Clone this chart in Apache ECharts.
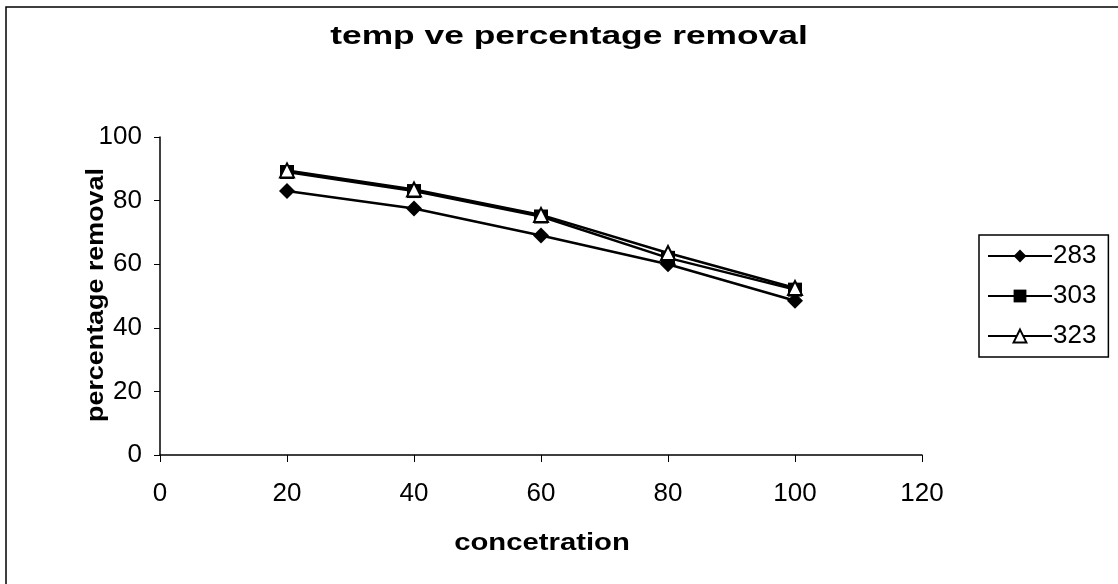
<!DOCTYPE html>
<html>
<head>
<meta charset="utf-8">
<script src="https://cdn.jsdelivr.net/npm/echarts@6/dist/echarts.min.js"></script>
<style>html,body{margin:0;padding:0;background:#fff}#c{width:1118px;height:584px}</style>
</head>
<body>
<div id="c"></div>
<script>
const concentration = [20, 40, 60, 80, 100];
const s283 = [83, 77.5, 69, 60, 48.5];
const s303 = [89, 83, 75, 62, 52];
const s323 = [89.5, 83.5, 75.5, 63.5, 52.5];
const seriesNames = ['283', '303', '323'];
const titleText = 'temp ve percentage removal';
const xName = 'concetration';
const yName = 'percentage removal';

const chart = echarts.init(document.getElementById('c'));
const font = '"Liberation Sans", Arial, sans-serif';
function pairs(v){ return concentration.map((x,i)=>[x, v[i]]); }
function mk(name, data, symbol, size, fill){
  return {
    name, type:'line', data: pairs(data), symbol, symbolSize:size,
    lineStyle:{color:'#000', width:2.5},
    itemStyle:{color: fill, borderColor:'#000', borderWidth: fill==='#fff'?2:0},
    emphasis:{disabled:true}
  };
}
const boldText = (txt, x, y, size, sx, rot) => ({
  type:'text', x, y, rotation: rot||0, scaleX: sx, silent:true,
  style:{text:txt, fontFamily:font, fontSize:size, fontWeight:'bold', fill:'#000',
    align:'center', verticalAlign:'middle'}
});
chart.setOption({
  animation:false,
  backgroundColor:'#fff',
  graphic:[
    {type:'rect', shape:{x:6, y:7, width:1300, height:800},
      style:{fill:'none', stroke:'#000', lineWidth:1.5}, silent:true},
    boldText(titleText, 569, 37, 26, 1.36),
    boldText(xName, 542, 543, 24, 1.22),
    boldText(yName, 96, 295, 24, 1.12, Math.PI/2)
  ],
  legend:{
    orient:'vertical', left:979, top:235, itemWidth:64, itemHeight:16, itemGap:14,
    padding:[8,12,8,8], borderColor:'#000', borderWidth:1.5, backgroundColor:'#fff',
    textStyle:{fontFamily:font, fontSize:26, color:'#000', padding:[0,0,0,-4]},
    data: seriesNames
  },
  grid:{left:160, top:137, right:196, bottom:129},
  xAxis:{type:'value', min:0, max:120, interval:20,
    axisLine:{lineStyle:{color:'#000', width:1.5}},
    axisTick:{show:true, length:7, lineStyle:{color:'#000'}},
    axisLabel:{fontFamily:font, fontSize:26, color:'#000', margin:26},
    splitLine:{show:false}},
  yAxis:{type:'value', min:0, max:100, interval:20,
    axisLine:{show:true, lineStyle:{color:'#000', width:1.5}},
    axisTick:{show:true, length:6, lineStyle:{color:'#000'}},
    axisLabel:{fontFamily:font, fontSize:26, color:'#000', margin:18},
    splitLine:{show:false}},
  series:[
    mk('283', s283, 'diamond', 16, '#000'),
    mk('303', s303, 'rect', 14, '#000'),
    mk('323', s323, 'triangle', 14, '#fff')
  ]
});
</script>
</body>
</html>
